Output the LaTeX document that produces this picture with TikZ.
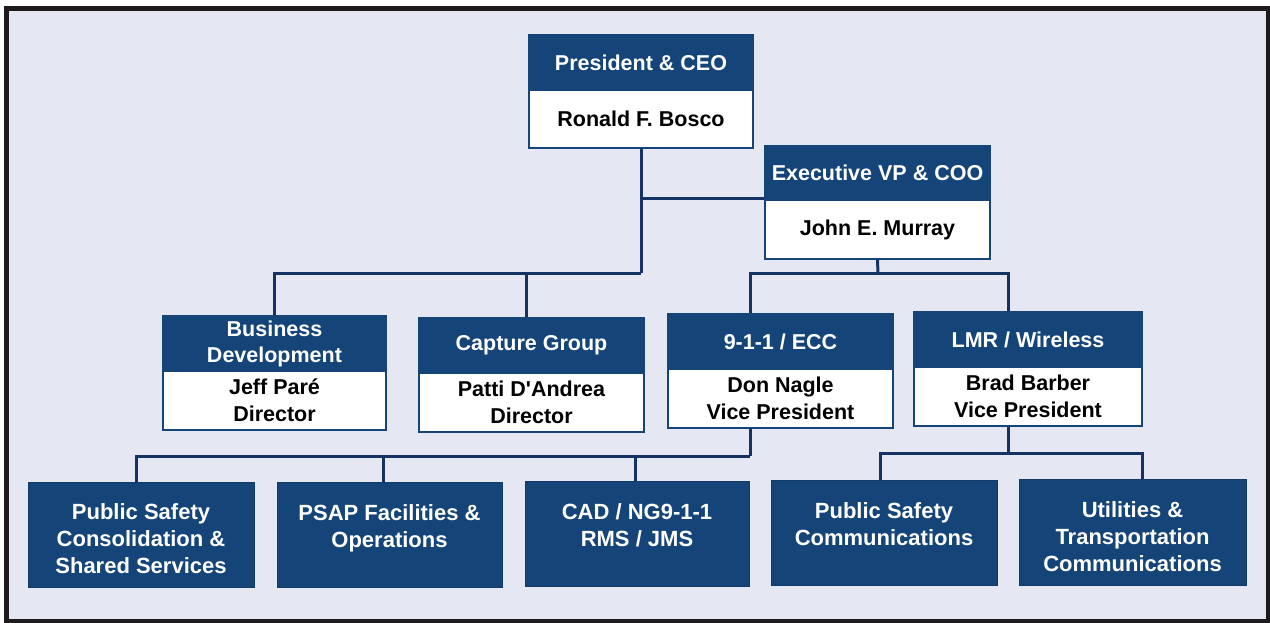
\documentclass[tikz,border=0pt]{standalone}
\usepackage{fontspec}
\setmainfont{Liberation Sans}
\usetikzlibrary{calc}

\definecolor{navy}{RGB}{20,68,120}
\definecolor{wire}{RGB}{20,50,98}
\definecolor{paper}{RGB}{229,232,242}
\definecolor{framecol}{RGB}{30,26,30}

% pushes a text block down inside the unit boxes
\newcommand{\toppad}{\rule{0pt}{25pt}}

\begin{document}
\begin{tikzpicture}[x=1pt,y=-1pt,
  head/.style={draw=navy, line width=1.5pt, fill=navy, text=white,
    font=\bfseries\fontsize{21.5}{26}\selectfont, align=center, inner sep=0pt},
  body/.style={draw=navy, line width=2pt, fill=white, text=black,
    font=\bfseries\fontsize{21.5}{27}\selectfont, align=center, inner sep=0pt},
  unit/.style={draw=navy!85!black, line width=1pt, fill=navy, text=white,
    font=\bfseries\fontsize{22}{27}\selectfont, align=center, inner sep=0pt,
    minimum height=105pt},
  link/.style={draw=wire, line width=3pt}
]
\useasboundingbox (0,0) rectangle (1270,623);

% page and frame
\fill[white] (0,0) rectangle (1270,623);
\draw[framecol, line width=5pt, fill=paper] (6.5,8.5) rectangle (1268,621);

% executive level
\node[head, minimum width=224pt, minimum height=55pt] (ceoH) at (641,62.5) {President \& CEO};
\node[body, minimum width=224pt, minimum height=58pt] (ceoB) at (641,119) {Ronald F. Bosco};

\node[head, minimum width=225pt, minimum height=54pt] (cooH) at (877.5,173) {Executive VP \& COO};
\node[body, minimum width=225pt, minimum height=59pt] (cooB) at (877.5,229.5) {John E. Murray};

% second level
\node[head, minimum width=223pt, minimum height=55pt] (bdH) at (274.5,343.5) {Business\\Development};
\node[body, minimum width=223pt, minimum height=59pt] (bdB) at (274.5,400.5) {Jeff Paré\\Director};

\node[head, minimum width=225pt, minimum height=55pt] (cgH) at (531.5,345.5) {Capture Group};
\node[body, minimum width=225pt, minimum height=59pt] (cgB) at (531.5,402.5) {Patti D\textquotesingle Andrea\\Director};

\node[head, minimum width=225pt, minimum height=55pt] (eccH) at (780.5,341.5) {9-1-1 / ECC};
\node[body, minimum width=225pt, minimum height=59pt] (eccB) at (780.5,398.5) {Don Nagle\\Vice President};

\node[head, minimum width=228pt, minimum height=55pt] (lmrH) at (1028,339.5) {LMR / Wireless};
\node[body, minimum width=228pt, minimum height=59pt] (lmrB) at (1028,396.5) {Brad Barber\\Vice President};

% practice units
\node[unit, minimum width=226pt] (u1) at (141,534.5) {\toppad Public Safety\\Consolidation \&\\Shared Services};
\node[unit, minimum width=225pt] (u2) at (389.5,534.5) {\toppad PSAP Facilities \&\\Operations\\\mbox{}};
\node[unit, minimum width=224pt] (u3) at (637,533.5) {\toppad CAD / NG9-1-1\\RMS / JMS\\\mbox{}};
\node[unit, minimum width=226pt] (u4) at (884,532.5) {\toppad Public Safety\\Communications\\\mbox{}};
\node[unit, minimum width=227pt, minimum height=106pt] (u5) at (1132.5,532) {\toppad Utilities \&\\Transportation\\Communications};

% tap points and bus junctions
\coordinate (busA) at (641,273);
\coordinate (busB) at (878,273);
\coordinate (cgTop) at ([xshift=-5.5pt]cgH.north);
\coordinate (eccTop) at ([xshift=-30.5pt]eccH.north);
\coordinate (lmrTop) at ([xshift=-20pt]lmrH.north);
\coordinate (eccBot) at ([xshift=-30.5pt]eccB.south);
\coordinate (lmrBot) at ([xshift=-20pt]lmrB.south);
\coordinate (busC) at (750,456);
\coordinate (busD) at (1008,453);
\coordinate (t1) at ([xshift=-5pt]u1.north);
\coordinate (t2) at ([xshift=-6.5pt]u2.north);
\coordinate (t3) at ([xshift=-2pt]u3.north);
\coordinate (t4) at ([xshift=-4pt]u4.north);
\coordinate (t5) at ([xshift=9.5pt]u5.north);

% connectors
\draw[link] (ceoB.south) -- (busA);
\draw[link] (cooB.north west) -- (cooB.north west -| ceoB.south);
\draw[link] (bdH.north) |- (busA);
\draw[link] (cgTop) -- (cgTop |- busA);

\draw[link] (cooB.south) -- (busB);
\draw[link] (eccTop) -- (eccTop |- busB) -- (lmrTop |- busB) -- (lmrTop);

\draw[link] (eccBot) -- (busC);
\draw[link] (t1) |- (busC);
\draw[link] (t2) -- (t2 |- busC);
\draw[link] (t3) -- (t3 |- busC);

\draw[link] (lmrBot) -- (busD);
\draw[link] (t4) -- (t4 |- busD) -- (t5 |- busD) -- (t5);
\end{tikzpicture}
\end{document}
